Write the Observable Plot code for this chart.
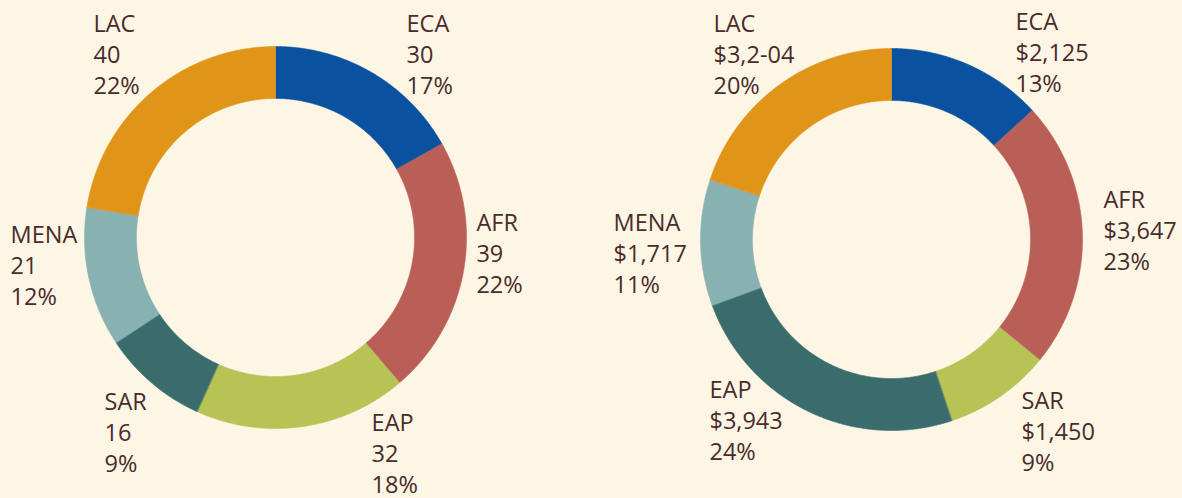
<!DOCTYPE html>
<html><head><meta charset="utf-8">
<script src="https://cdn.jsdelivr.net/npm/d3@7"></script>
<script src="https://cdn.jsdelivr.net/npm/@observablehq/plot@0.6"></script>
<style>
html,body{margin:0;padding:0;background:#FEF6E5;}
#wrap{display:flex;width:1182px;height:498px;overflow:hidden;}
#wrap svg{display:block;}
</style></head><body><div id="wrap"></div>
<script>
// ---- data: left donut (counts) ----
const leftRegions = ["ECA", "AFR", "EAP", "SAR", "MENA", "LAC"];
const leftCounts = [30, 39, 32, 16, 21, 40];
const leftCountLabels = ["30", "39", "32", "16", "21", "40"];
const leftShares = ["17%", "22%", "18%", "9%", "12%", "22%"];

// ---- data: right donut (amounts) ----
const rightRegions = ["ECA", "AFR", "SAR", "EAP", "MENA", "LAC"];
const rightAmounts = [2125, 3647, 1450, 3943, 1717, 3204];
const rightAmountLabels = ["$2,125", "$3,647", "$1,450", "$3,943", "$1,717", "$3,2-04"];
const rightShares = ["13%", "23%", "9%", "24%", "11%", "20%"];

// ---- styling / layout ----
const sliceColors = ["#0A52A0", "#B95F58", "#B8C356", "#3A6C6E", "#88B2B1", "#E09519"];
const textColor = "#4A2B2B";
const panelW = 591, panelH = 498, outerPx = 191, innerRatio = 0.728;
// label block top-left offsets from the donut centre, in units of the outer radius
const leftLabelDX = [0.686, 1.052, 0.503, -0.895, -1.387, -0.953];
const leftLabelDY = [1.162, 0.120, -0.927, -0.817, 0.058, 1.162];
const rightLabelDX = [0.649, 1.110, 0.681, -0.953, -1.455, -0.932];
const rightLabelDY = [1.183, 0.251, -0.801, -0.743, 0.131, 1.173];

function donut(regions, values, valueLabels, shares, labelDX, labelDY, cx, cy) {
  const arcs = d3.pie().sort(null).value(d => d)(values);
  const slices = [];
  arcs.forEach((a, i) => {
    const n = Math.max(8, Math.ceil((a.endAngle - a.startAngle) / 0.008));
    for (let k = 0; k <= n; k++) {
      const t = a.startAngle + (a.endAngle - a.startAngle) * k / n;
      slices.push({region: regions[i], x: Math.sin(t), y: Math.cos(t)});
    }
    for (let k = n; k >= 0; k--) {
      const t = a.startAngle + (a.endAngle - a.startAngle) * k / n;
      slices.push({region: regions[i], x: innerRatio * Math.sin(t), y: innerRatio * Math.cos(t)});
    }
  });
  const labels = regions.map((r, i) => ({
    text: `${r}\n${valueLabels[i]}\n${shares[i]}`, x: labelDX[i], y: labelDY[i]
  }));
  return Plot.plot({
    width: panelW, height: panelH,
    marginTop: 0, marginRight: 0, marginBottom: 0, marginLeft: 0,
    style: {background: "transparent", fontFamily: "'Open Sans', sans-serif", overflow: "visible"},
    x: {domain: [-cx / outerPx, (panelW - cx) / outerPx], axis: null},
    y: {domain: [-(panelH - cy) / outerPx, cy / outerPx], axis: null},
    color: {domain: regions, range: sliceColors},
    marks: [
      Plot.line(slices, {x: "x", y: "y", z: "region", fill: "region", stroke: "region", strokeWidth: 0.6, curve: "linear-closed"}),
      Plot.text(labels, {x: "x", y: "y", text: "text", textAnchor: "start", lineAnchor: "top",
        dy: -5, fontSize: 23.5, lineHeight: 1.31, fill: textColor})
    ]
  });
}

const wrap = document.getElementById("wrap");
wrap.append(donut(leftRegions, leftCounts, leftCountLabels, leftShares, leftLabelDX, leftLabelDY, 275, 237));
wrap.append(donut(rightRegions, rightAmounts, rightAmountLabels, rightShares, rightLabelDX, rightLabelDY, 300, 239));
</script></body></html>
